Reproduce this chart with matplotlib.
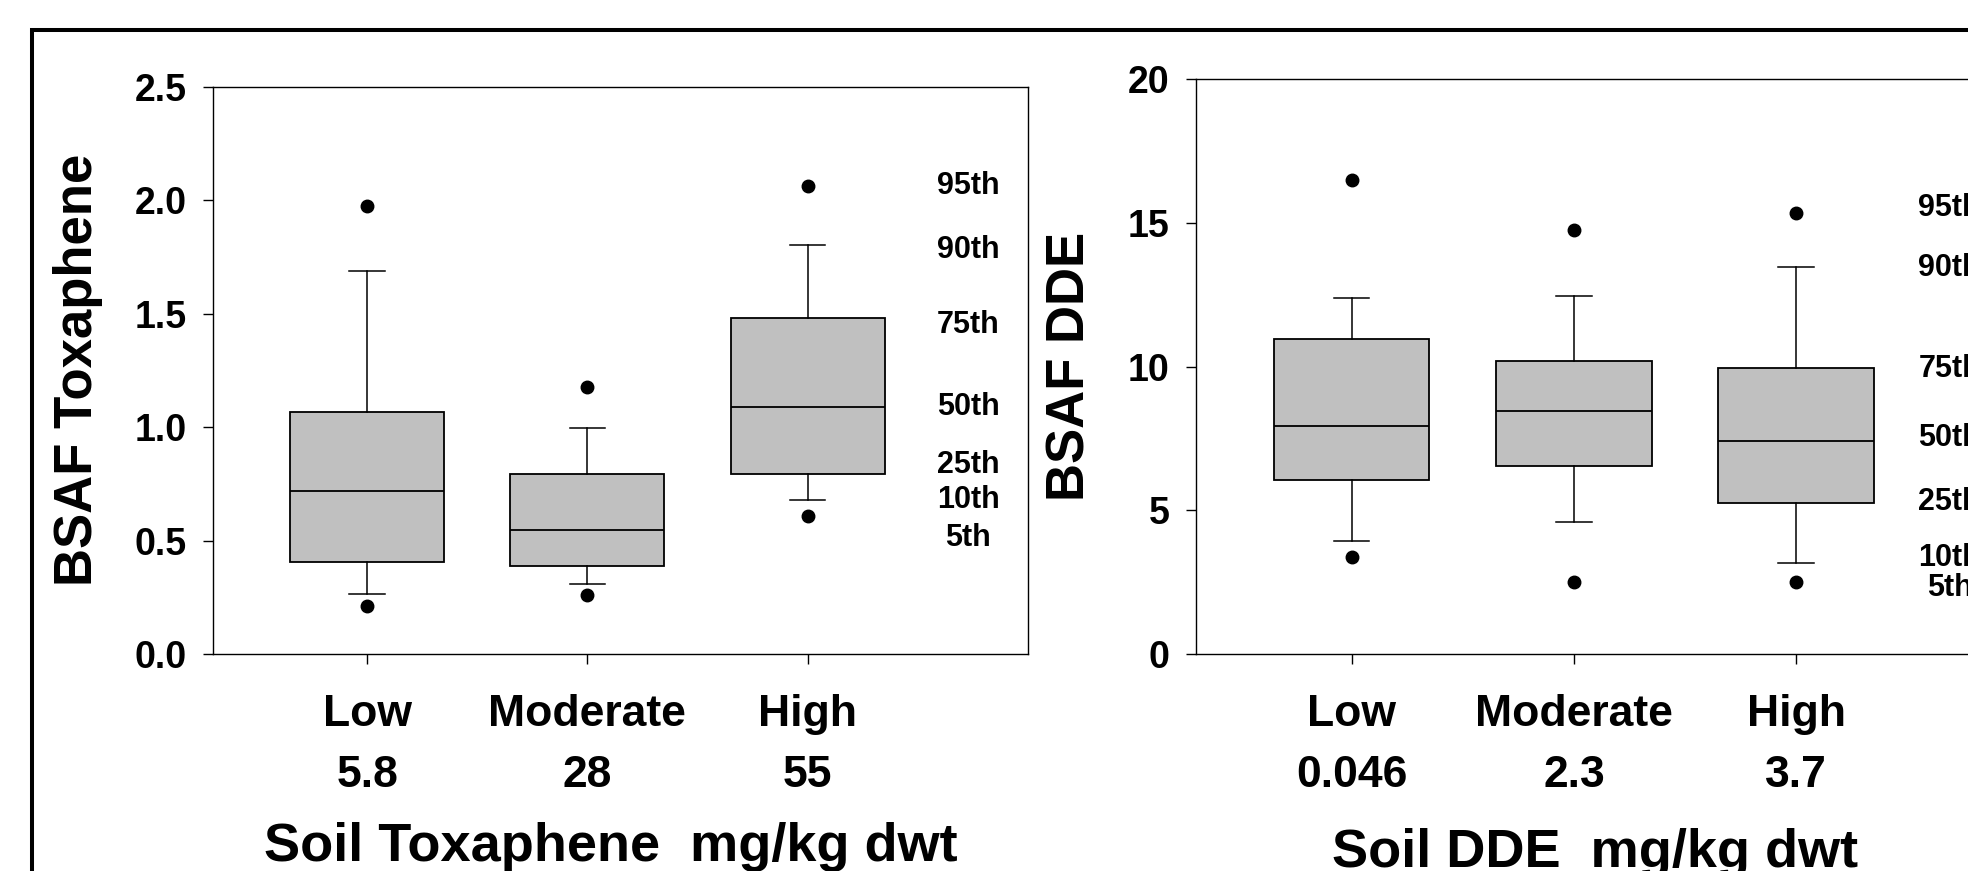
import numpy as np
import matplotlib
matplotlib.use("Agg")
import matplotlib.pyplot as plt
from matplotlib.patches import Rectangle

plt.rcParams['font.family'] = ['Liberation Sans', 'DejaVu Sans']
plt.rcParams['font.weight'] = 'bold'

levels = ["Low", "Moderate", "High"]
tox_soil = ["5.8", "28", "55"]
dde_soil = ["0.046", "2.3", "3.7"]

# percentiles (Low, Moderate, High)
tox_p5 = [0.21, 0.26, 0.61]
tox_p10 = [0.265, 0.31, 0.68]
tox_p25 = [0.405, 0.39, 0.795]
tox_p50 = [0.717, 0.547, 1.087]
tox_p75 = [1.066, 0.792, 1.481]
tox_p90 = [1.686, 0.997, 1.80]
tox_p95 = [1.975, 1.178, 2.06]

dde_p5 = [3.36, 2.49, 2.51]
dde_p10 = [3.92, 4.60, 3.17]
dde_p25 = [6.05, 6.55, 5.24]
dde_p50 = [7.92, 8.46, 7.42]
dde_p75 = [10.96, 10.18, 9.95]
dde_p90 = [12.39, 12.44, 13.47]
dde_p95 = [16.48, 14.76, 15.34]

pct_names = ["95th", "90th", "75th", "50th", "25th", "10th", "5th"]

# where the percentile legend text sits (layout only)
tox_pct_y = [2.06, 1.78, 1.45, 1.09, 0.833, 0.678, 0.51]
dde_pct_y = [15.52, 13.43, 9.91, 7.50, 5.28, 3.34, 2.30]


def make_stats(p5, p10, p25, p50, p75, p90, p95):
    out = []
    for i in range(len(p50)):
        out.append(dict(med=p50[i], q1=p25[i], q3=p75[i],
                        whislo=p10[i], whishi=p90[i],
                        fliers=[p5[i], p95[i]]))
    return out


def draw_panel(ax, stats, soil, yticks, yfmt, ylabel, xlabel, pct_y, pct_x):
    ax.bxp(stats, positions=[1, 2, 3], widths=0.7, patch_artist=True,
           capwidths=0.16,
           boxprops=dict(facecolor='#c0c0c0', edgecolor='black', linewidth=1.3),
           medianprops=dict(color='black', linewidth=1.3),
           whiskerprops=dict(color='black', linewidth=1.1),
           capprops=dict(color='black', linewidth=1.1),
           flierprops=dict(marker='o', markerfacecolor='black',
                           markeredgecolor='black', markersize=9))
    ax.set_xlim(0.3, 4.0)
    ax.set_ylim(yticks[0], yticks[-1])
    ax.set_yticks(yticks)
    ax.set_yticklabels([yfmt % v for v in yticks], fontsize=27, fontweight='bold')
    ax.set_xticks([1, 2, 3])
    ax.set_xticklabels([f"{l}\n{s}" for l, s in zip(levels, soil)],
                       fontsize=32, fontweight='bold', linespacing=1.6)
    ax.tick_params(axis='x', direction='out', length=7, width=1, pad=22)
    ax.tick_params(axis='y', direction='out', length=7, width=1, pad=12)
    for sp in ax.spines.values():
        sp.set_linewidth(1)
    ax.set_ylabel(ylabel, fontsize=38, fontweight='bold', va='center')
    ax.set_xlabel(xlabel, fontsize=39, fontweight='bold')
    for name, y in zip(pct_names, pct_y):
        ax.text(pct_x, y, name, ha='center', va='center',
                fontsize=22, fontweight='bold')


fig = plt.figure(figsize=(19.68, 8.71), dpi=100)

ax1 = fig.add_axes([0.1082, 0.2491, 0.4141, 0.6515])
draw_panel(ax1, make_stats(tox_p5, tox_p10, tox_p25, tox_p50, tox_p75, tox_p90, tox_p95),
           tox_soil, [0, 0.5, 1.0, 1.5, 2.0, 2.5], "%.1f",
           "BSAF Toxaphene", "Soil Toxaphene  mg/kg dwt", tox_pct_y, 3.73)
ax1.yaxis.set_label_coords(-0.166, 0.5)
ax1.xaxis.set_label_coords(0.488, -0.296)

ax2 = fig.add_axes([0.6077, 0.2491, 0.418, 0.6602])
draw_panel(ax2, make_stats(dde_p5, dde_p10, dde_p25, dde_p50, dde_p75, dde_p90, dde_p95),
           dde_soil, [0, 5, 10, 15, 20], "%d",
           "BSAF DDE", "Soil DDE  mg/kg dwt", dde_pct_y, 3.69)
ax2.yaxis.set_label_coords(-0.153, 0.5)
ax2.xaxis.set_label_coords(0.485, -0.302)

# outer frame, runs off the right and bottom edges
fig.add_artist(Rectangle((31.5 / 1968, -0.1), 1.2, 1 - 30 / 871 + 0.1,
                         transform=fig.transFigure, fill=False,
                         edgecolor='black', linewidth=2.9))

fig.savefig("out.png", dpi=100)
